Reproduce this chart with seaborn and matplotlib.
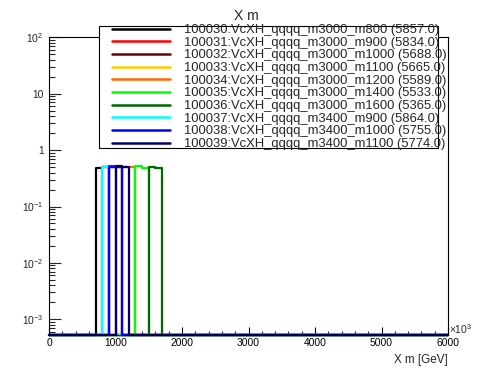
import numpy as np
import pandas as pd
import matplotlib
matplotlib.use("Agg")
import matplotlib.pyplot as plt
from matplotlib.patches import Rectangle
from matplotlib.ticker import FixedLocator, FixedFormatter, LogLocator, NullFormatter, MultipleLocator
import seaborn as sns

# ---------------- data ----------------
labels = [
    "100030:VcXH_qqqq_m3000_m800 (5857.0)",
    "100031:VcXH_qqqq_m3000_m900 (5834.0)",
    "100032:VcXH_qqqq_m3000_m1000 (5688.0)",
    "100033:VcXH_qqqq_m3000_m1100 (5665.0)",
    "100034:VcXH_qqqq_m3000_m1200 (5589.0)",
    "100035:VcXH_qqqq_m3000_m1400 (5533.0)",
    "100036:VcXH_qqqq_m3000_m1600 (5365.0)",
    "100037:VcXH_qqqq_m3400_m900 (5864.0)",
    "100038:VcXH_qqqq_m3400_m1000 (5755.0)",
    "100039:VcXH_qqqq_m3400_m1100 (5774.0)",
]
masses = [800, 900, 1000, 1100, 1200, 1400, 1600, 900, 1000, 1100]
# normalised content of the bin just below and just above the mass
low_bin = [0.49, 0.50, 0.51, 0.50, 0.50, 0.53, 0.50, 0.51, 0.51, 0.52]
high_bin = [0.50, 0.52, 0.50, 0.50, 0.50, 0.49, 0.49, 0.50, 0.51, 0.50]
colors = ["#000000", "#ff0000", "#660000", "#ffcc00", "#ff6600",
          "#00ff00", "#006600", "#00ffff", "#0000ff", "#000066"]

bin_width = 100
x_max = 6000
y_min, y_max = 5.27e-4, 100.0

# ---------------- style ----------------
sns.set_theme(style="white")
plt.rcParams["font.family"] = ["Liberation Sans", "DejaVu Sans"]
plt.rcParams.update({
    "mathtext.fontset": "custom",
    "mathtext.rm": "Liberation Sans",
    "mathtext.it": "Liberation Sans:italic",
    "mathtext.bf": "Liberation Sans:bold",
    "axes.edgecolor": "black",
    "axes.linewidth": 0.8,
})

fig = plt.figure(figsize=(4.98, 3.74), dpi=100)
ax = fig.add_axes([49 / 498, 1 - 335 / 374, (448 - 49) / 498, (335 - 37.3) / 374])
ax.set_yscale("log")

edges = np.arange(0, x_max + bin_width, bin_width)
centers = edges[:-1] + bin_width / 2

handles = []
for lab, m, lo, hi, col in zip(labels, masses, low_bin, high_bin, colors):
    vals = np.zeros(len(centers))
    vals[np.searchsorted(centers, m - bin_width / 2)] = lo
    vals[np.searchsorted(centers, m + bin_width / 2)] = hi
    vals = np.where(vals > 0, vals, y_min)  # empty bins drawn on the frame floor (ROOT style)
    df = pd.DataFrame({"x": centers, "w": vals})
    sns.histplot(data=df, x="x", weights="w", bins=edges.tolist(), element="step",
                 fill=False, color=col, linewidth=1.6, clip_on=False, ax=ax)
    handles.append(ax.lines[-1])

ax.set_xlim(0, x_max)
ax.set_ylim(y_min, y_max)

# x ticks
ax.xaxis.set_major_locator(MultipleLocator(1000))
ax.xaxis.set_minor_locator(MultipleLocator(200))
ax.tick_params(axis="x", which="major", direction="in", length=5.8, width=0.8,
               labelsize=7.4, pad=2.5, bottom=True, top=False, colors="black")
ax.tick_params(axis="x", which="minor", direction="in", length=2.9, width=0.8,
               bottom=True, top=False)

# y ticks
dec = [1e-3, 1e-2, 1e-1, 1, 10, 100]
dec_labels = [r"$10^{-3}$", r"$10^{-2}$", r"$10^{-1}$", "1", "10", r"$10^{2}$"]
ax.yaxis.set_major_locator(FixedLocator(dec))
ax.yaxis.set_major_formatter(FixedFormatter(dec_labels))
ax.yaxis.set_minor_locator(LogLocator(base=10, subs=np.arange(2, 10), numticks=20))
ax.yaxis.set_minor_formatter(NullFormatter())
ax.tick_params(axis="y", which="major", direction="in", length=8.8, width=0.8,
               labelsize=7.4, pad=4, left=True, right=False)
ax.tick_params(axis="y", which="minor", direction="in", length=4.2, width=0.8,
               left=True, right=False)
for s in ax.spines.values():
    s.set_visible(True)
    s.set_color("black")
    s.set_linewidth(0.8)

ax.set_xlabel("")
ax.set_ylabel("")
fig.text(448 / 498, 1 - 360 / 374, "X m [GeV]", ha="right", va="center", fontsize=8.4)
fig.text(449 / 498, 1 - 329 / 374, r"$\times10^{3}$", ha="left", va="center", fontsize=7.4)
fig.text(246 / 498, 1 - 15.5 / 374, "X m", ha="center", va="center", fontsize=10)

# legend box (ROOT TLegend style)
rect = Rectangle((99 / 498, 1 - 148 / 374), (438 - 99) / 498, (148 - 26) / 374,
                 transform=fig.transFigure, facecolor="white", edgecolor="black",
                 linewidth=0.8, zorder=10, clip_on=False)
ax.add_artist(rect)
leg = ax.legend(handles, labels, loc="upper left",
                bbox_to_anchor=(111.7 / 498, 1 - 24.0 / 374),
                bbox_transform=fig.transFigure, frameon=False, fontsize=9.4,
                handlelength=4.5, handletextpad=1.0, labelspacing=0.04,
                borderpad=0, borderaxespad=0)
leg.set_zorder(11)
for h in leg.legend_handles:
    h.set_linewidth(1.8)

fig.savefig("out.png", dpi=100)
